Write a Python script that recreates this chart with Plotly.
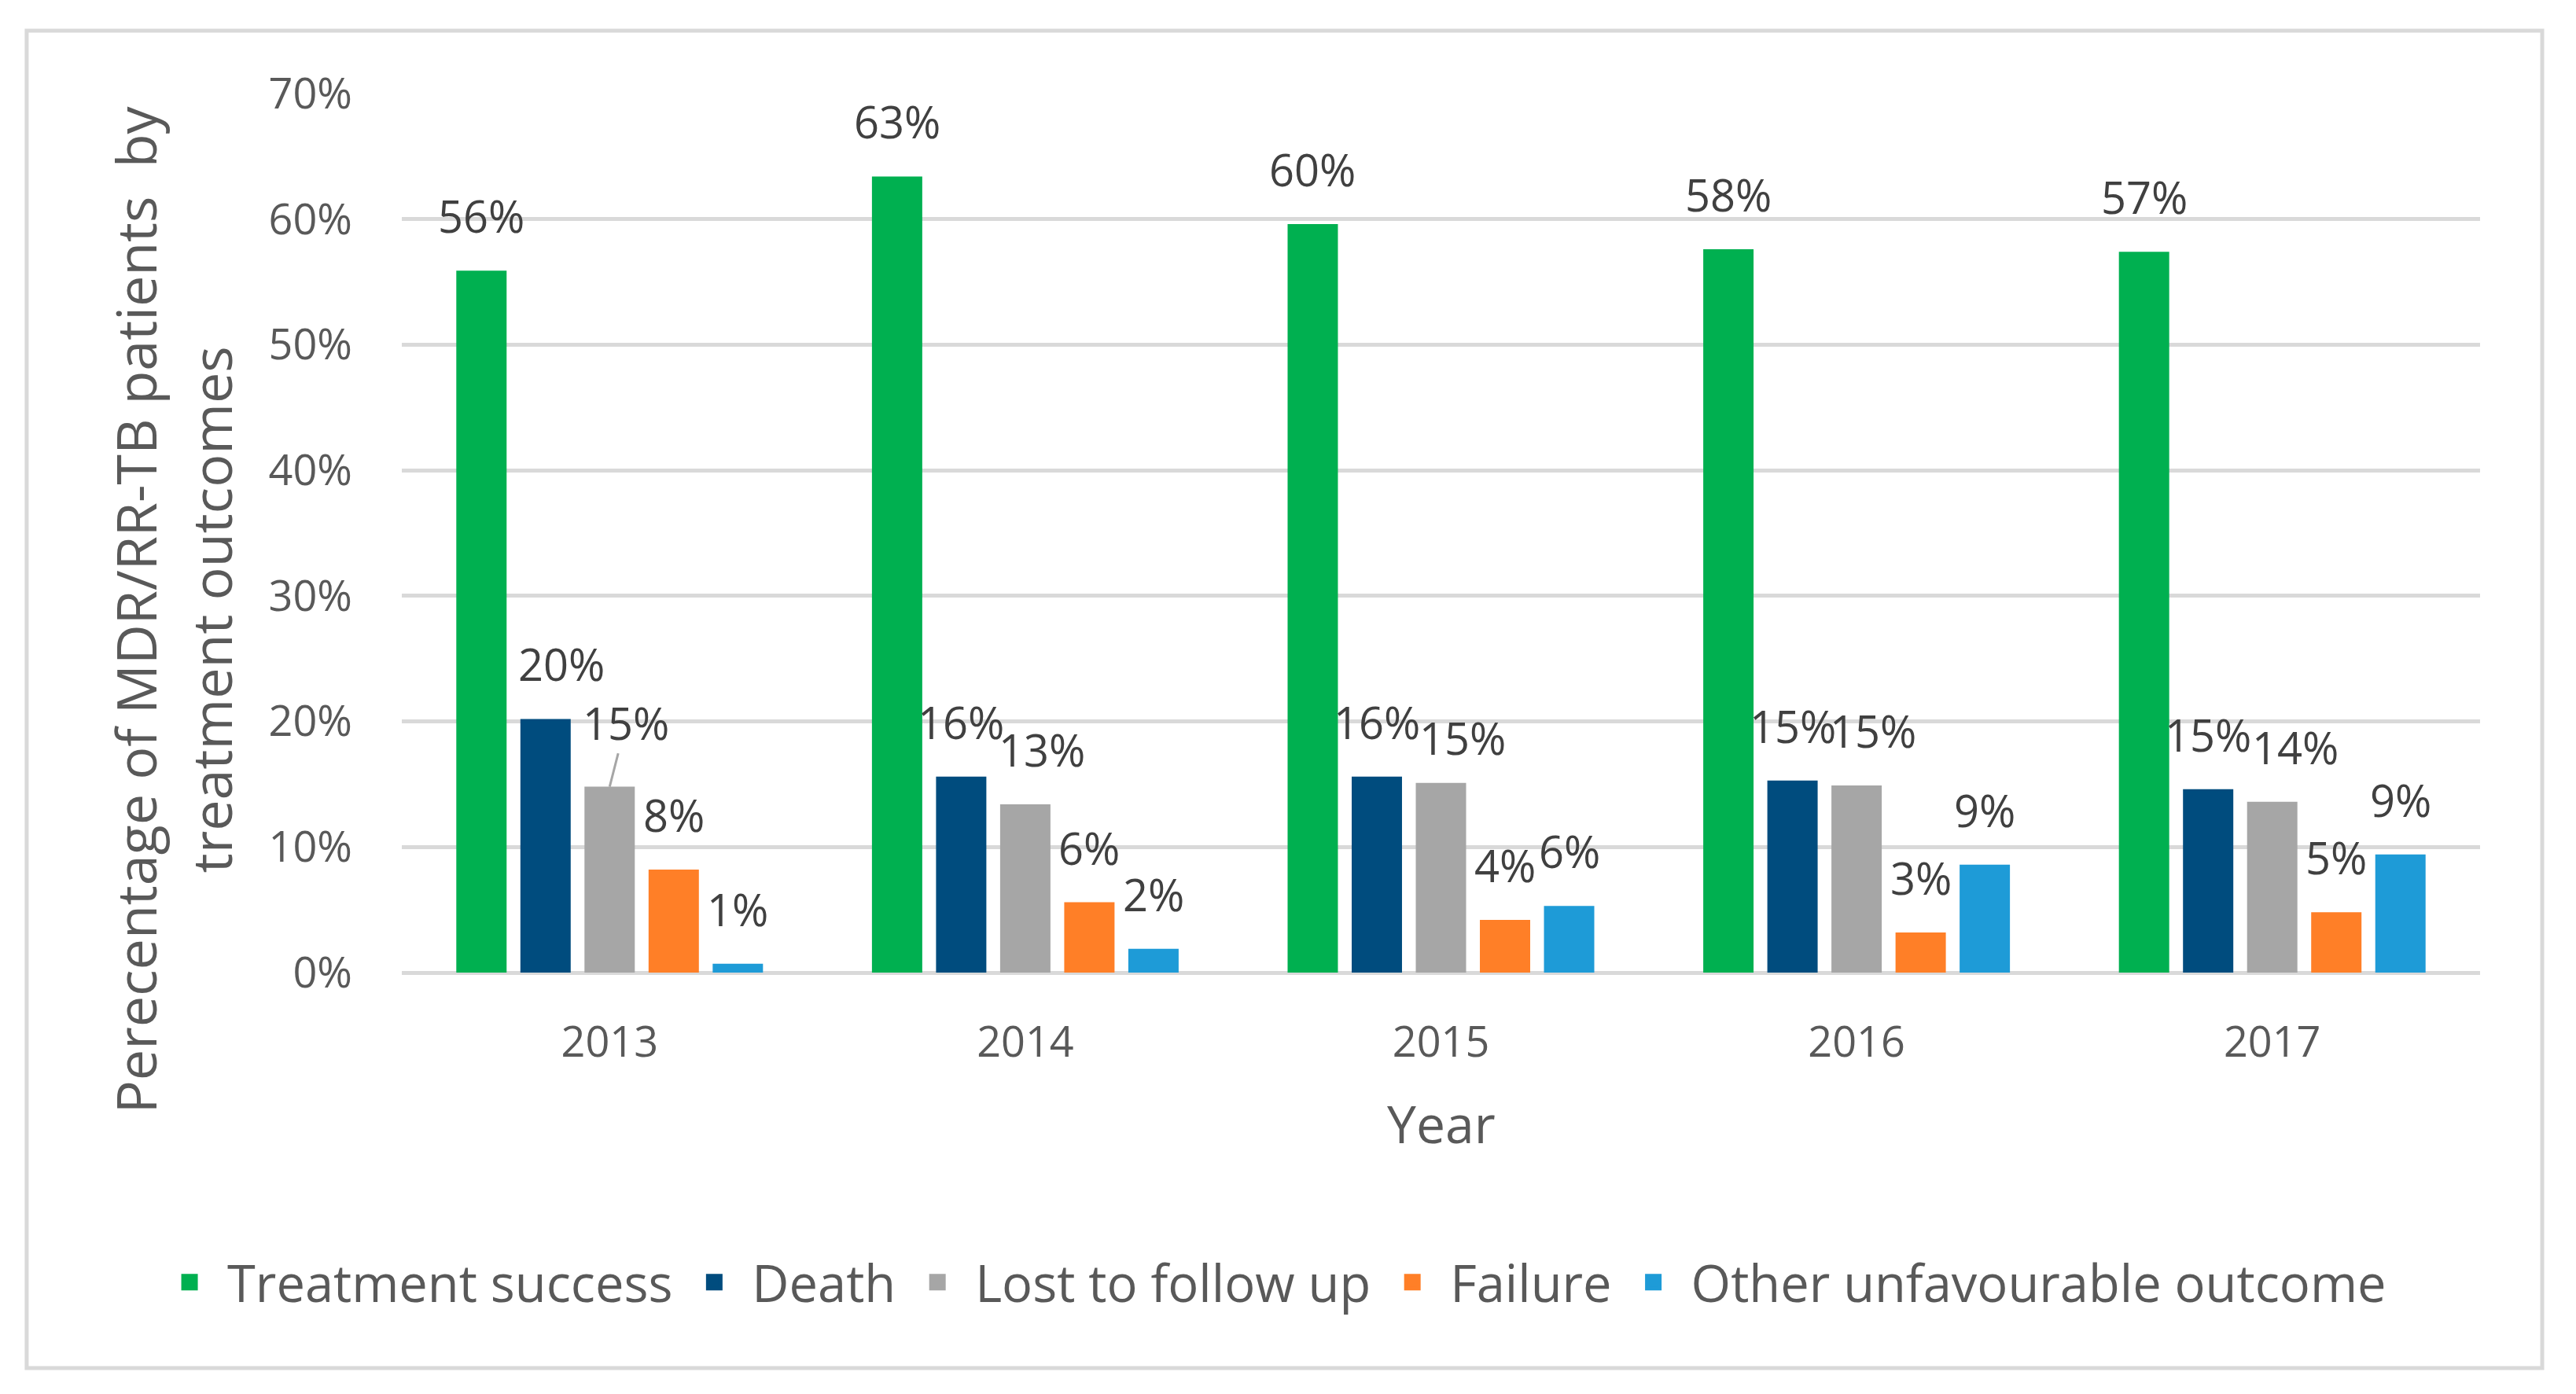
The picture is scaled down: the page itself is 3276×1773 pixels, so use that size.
import plotly.graph_objects as go

years = ["2013", "2014", "2015", "2016", "2017"]
series_names = ["Treatment success", "Death", "Lost to follow up", "Failure",
                "Other unfavourable outcome"]

treatment_success = [0.559, 0.634, 0.596, 0.576, 0.574]
death = [0.202, 0.156, 0.156, 0.153, 0.146]
lost_to_follow_up = [0.148, 0.134, 0.151, 0.149, 0.136]
failure = [0.082, 0.056, 0.042, 0.032, 0.048]
other_unfavourable = [0.007, 0.019, 0.053, 0.086, 0.094]

# data labels as printed on the chart
labels_success = ["56%", "63%", "60%", "58%", "57%"]
labels_death = ["20%", "16%", "16%", "15%", "15%"]
labels_lost = ["15%", "13%", "15%", "15%", "14%"]
labels_failure = ["8%", "6%", "4%", "3%", "5%"]
labels_other = ["1%", "2%", "6%", "9%", "9%"]

y_ticks = [0, 0.1, 0.2, 0.3, 0.4, 0.5, 0.6, 0.7]
y_title_lines = ["Perecentage of MDR/RR-TB patients \u00a0by", "treatment outcomes"]
x_title = "Year"

series_values = [treatment_success, death, lost_to_follow_up, failure, other_unfavourable]
series_labels = [labels_success, labels_death, labels_lost, labels_failure, labels_other]
colors = ["#00B050", "#004C7E", "#A6A6A6", "#FF7F27", "#1E9BD7"]

FONT = "Open Sans"
BARGAP = 0.229
BARGROUPGAP = 0.215
LABEL_RISE = 70
# label nudges (pixels): (series index, year index) -> (dx, dy)
nudges = {(1, 0): (20, 0), (2, 1): (21, 0), (2, 2): (27, -12),
          (2, 3): (21, 0), (2, 4): (29, 0)}
leader = {(2, 0): (21, -82)}

fig = go.Figure()
for name, vals, col in zip(series_names, series_values, colors):
    fig.add_trace(go.Bar(x=years, y=vals, name=name, showlegend=False,
                         marker=dict(color=col, line=dict(width=0)), hoverinfo="skip"))
# legend swatches (square markers, no data)
for name, col in zip(series_names, colors):
    fig.add_trace(go.Scatter(x=[None], y=[None], mode="markers", name=name,
                             marker=dict(symbol="square", size=16, color=col,
                                         line=dict(color=col, width=5))))

n = len(series_values)
slot = (1 - BARGAP) / n
annotations = []
for j, (vals, labs) in enumerate(zip(series_values, series_labels)):
    off = -(1 - BARGAP) / 2 + slot * (j + 0.5)
    for i, (v, t) in enumerate(zip(vals, labs)):
        base = dict(x=i + off, y=v, xref="x", yref="y", text=t,
                    font=dict(family=FONT, size=56, color="#404040"))
        if (j, i) in leader:
            ax, ay = leader[(j, i)]
            annotations.append(dict(base, showarrow=True, arrowhead=0, arrowwidth=3,
                                    arrowcolor="#A6A6A6", ax=ax, ay=ay, standoff=0,
                                    xanchor="center", yanchor="middle"))
        else:
            dx, dy = nudges.get((j, i), (0, 0))
            annotations.append(dict(base, showarrow=False, xanchor="center", yanchor="middle",
                                    xshift=dx, yshift=LABEL_RISE + dy))

for line, xs in zip(y_title_lines, [-339, -243]):
    annotations.append(dict(text=line, xref="paper", yref="paper", x=0, y=0.413, xshift=xs,
                            textangle=-90, showarrow=False, xanchor="center", yanchor="middle",
                            font=dict(family=FONT, size=70, color="#595959")))
annotations.append(dict(text=x_title, xref="paper", yref="paper", x=0.5, y=0, yshift=-191,
                        showarrow=False, xanchor="center", yanchor="middle",
                        font=dict(family=FONT, size=66, color="#595959")))

fig.update_layout(
    width=3276, height=1773, autosize=False,
    margin=dict(l=511, r=122, t=119, b=536),
    paper_bgcolor="white", plot_bgcolor="white",
    barmode="group", bargap=BARGAP, bargroupgap=BARGROUPGAP,
    font=dict(family=FONT, color="#595959"),
    showlegend=True,
    legend=dict(orientation="h", x=-0.1203, xanchor="left", y=-0.3524, yanchor="middle",
                font=dict(family=FONT, size=65, color="#595959"), itemwidth=86,
                itemsizing="trace", traceorder="normal", bgcolor="rgba(0,0,0,0)"),
    annotations=annotations,
    shapes=[dict(type="rect", xref="paper", yref="paper", x0=-0.1805, x1=1.0299,
                 y0=-0.4499, y1=1.0716, line=dict(color="#D9D9D9", width=5),
                 fillcolor="rgba(0,0,0,0)", layer="below")],
)
fig.update_yaxes(range=[0, 0.7], tickvals=y_ticks, tickformat=".0%", showgrid=True,
                 gridcolor="#D9D9D9", gridwidth=5, zeroline=True, zerolinecolor="#D9D9D9",
                 zerolinewidth=5, showline=False, ticks="", ticklabelstandoff=62,
                 tickfont=dict(family=FONT, size=54, color="#595959"))
fig.update_xaxes(type="category", showgrid=False, showline=False, ticks="",
                 ticklabelstandoff=52, tickfont=dict(family=FONT, size=54, color="#595959"))

fig.write_html("out.html", config={"displayModeBar": False},
               post_script="document.body.style.margin='0';")
